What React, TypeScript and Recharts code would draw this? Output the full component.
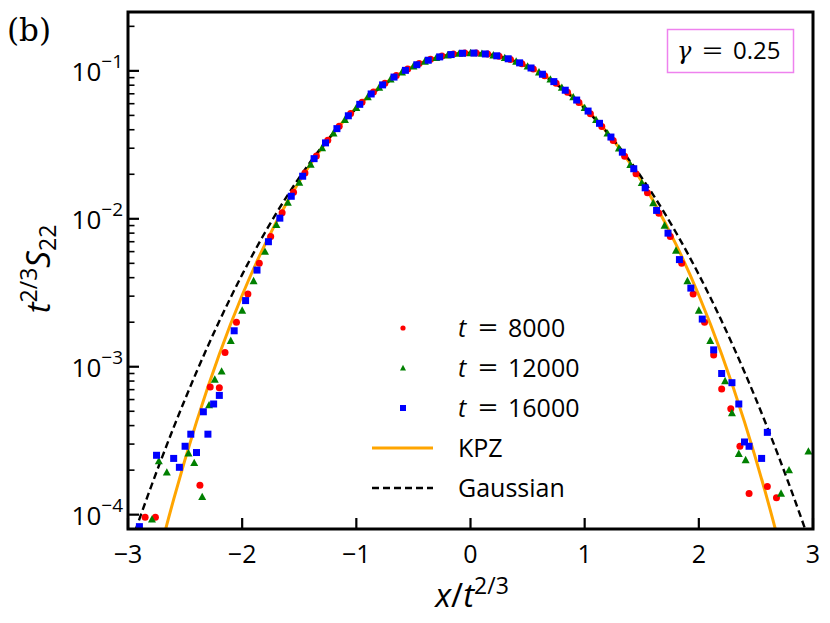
import { ComposedChart, Line, Scatter, XAxis, YAxis } from "recharts";

document.body.style.margin = "0";

const SANS = "'Open Sans', sans-serif";
const SERIF = "'DejaVu Serif', serif";

// x grid of the two theory curves
const curveX = [-3.0, -2.8, -2.6, -2.4, -2.2, -2.0, -1.8, -1.6, -1.4, -1.2, -1.0, -0.8, -0.6, -0.4, -0.2, 0,
  0.2, 0.4, 0.6, 0.8, 1.0, 1.2, 1.4, 1.6, 1.8, 2.0, 2.2, 2.4, 2.6, 2.8, 3.0];

const kpzY = [6.8e-6, 3.22e-5, 1.269e-4, 4.24e-4, 1.216e-3, 3.044e-3, 6.72e-3, 0.01325, 0.02355, 0.0381, 0.0564,
  0.0772, 0.0979, 0.1157, 0.1277, 0.132, 0.1277, 0.1157, 0.0979, 0.0772, 0.0564, 0.0381, 0.02355, 0.01325,
  6.72e-3, 3.044e-3, 1.216e-3, 4.24e-4, 1.269e-4, 3.22e-5, 6.8e-6];

const gaussY = [5.64e-5, 1.53e-4, 3.89e-4, 9.21e-4, 2.035e-3, 4.195e-3, 8.08e-3, 0.01452, 0.02437, 0.0381, 0.0557,
  0.076, 0.0968, 0.115, 0.1275, 0.132, 0.1275, 0.115, 0.0968, 0.076, 0.0557, 0.0381, 0.02437, 0.01452,
  8.08e-3, 4.195e-3, 2.035e-3, 9.21e-4, 3.89e-4, 1.53e-4, 5.64e-5];

// t = 8000
const red: [number, number][] = [
  [-2.85, 9.6e-5], [-2.76, 9.6e-5], [-2.37, 1.58e-4], [-2.28, 7.3e-4], [-2.2, 7.2e-4],
  [-2.15, 1.25e-3], [-2.05, 2.0e-3], [-1.95, 3.1e-3], [-1.85, 5.0e-3], [-1.75, 7.6e-3], [-1.65, 0.011],
  [-1.55, 0.0151], [-1.45, 0.0204], [-1.35, 0.0266], [-1.25, 0.034], [-1.15, 0.0423], [-1.05, 0.0515],
  [-0.95, 0.0614], [-0.85, 0.0719], [-0.75, 0.0826], [-0.65, 0.093], [-0.55, 0.103], [-0.45, 0.112],
  [-0.35, 0.1197], [-0.25, 0.1258], [-0.15, 0.13], [-0.05, 0.1323], [0.05, 0.1322], [0.15, 0.1298],
  [0.25, 0.1256], [0.35, 0.1195], [0.45, 0.1118], [0.55, 0.1028], [0.65, 0.0928], [0.75, 0.0824],
  [0.85, 0.0717], [0.95, 0.0612], [1.05, 0.0514], [1.15, 0.0421], [1.25, 0.0338], [1.35, 0.0265],
  [1.45, 0.0202], [1.55, 0.015], [1.65, 0.0109], [1.75, 0.0076], [1.85, 0.005], [1.95, 0.0031],
  [2.05, 0.002], [2.13, 1.2e-3], [2.2, 7.07e-4], [2.28, 5.2e-4], [2.36, 2.9e-4], [2.44, 1.39e-4],
  [2.6, 1.55e-4], [2.68, 1.3e-4],
];

// t = 12000
const green: [number, number][] = [
  [-2.79, 9.3e-5], [-2.73, 2.3e-4], [-2.66, 1.93e-4], [-2.47, 2.6e-4], [-2.42, 2.24e-4], [-2.35, 1.32e-4],
  [-2.29, 5.5e-4], [-2.24, 8.2e-4], [-2.18, 9.3e-4], [-2.1, 1.5e-3], [-2.0, 2.4e-3], [-1.9, 3.8e-3],
  [-1.8, 6.0e-3], [-1.7, 9.1e-3], [-1.6, 0.0129], [-1.5, 0.0176], [-1.4, 0.0233], [-1.3, 0.0301],
  [-1.2, 0.0379], [-1.1, 0.0467], [-1.0, 0.0563], [-0.9, 0.0666], [-0.8, 0.0772], [-0.7, 0.0877],
  [-0.6, 0.0979], [-0.5, 0.1074], [-0.4, 0.1156], [-0.3, 0.1225], [-0.2, 0.1276], [-0.1, 0.1308],
  [0, 0.132], [0.1, 0.1308], [0.2, 0.1276], [0.3, 0.1225], [0.4, 0.1156], [0.5, 0.1073], [0.6, 0.0978],
  [0.7, 0.0876], [0.8, 0.0771], [0.9, 0.0665], [1.0, 0.0562], [1.1, 0.0466], [1.2, 0.0378], [1.3, 0.03],
  [1.4, 0.0232], [1.5, 0.0175], [1.6, 0.0128], [1.7, 0.009], [1.8, 0.0061], [1.9, 0.0038], [2.0, 0.0024],
  [2.1, 0.0015], [2.23, 8.0e-4], [2.29, 4.87e-4], [2.35, 2.58e-4], [2.41, 2.34e-4], [2.72, 1.39e-4],
  [2.79, 2.0e-4], [2.96, 2.68e-4],
];

// t = 16000
const blue: [number, number][] = [
  [-2.9, 8.3e-5], [-2.75, 2.52e-4], [-2.6, 2.4e-4], [-2.55, 2.09e-4], [-2.5, 2.9e-4], [-2.45, 3.5e-4],
  [-2.4, 2.63e-4], [-2.34, 4.96e-4], [-2.3, 3.5e-4], [-2.25, 5.6e-4], [-2.2, 6.4e-4], [-2.07, 1.75e-3],
  [-1.97, 2.8e-3], [-1.87, 4.5e-3], [-1.77, 7.0e-3], [-1.67, 0.0101], [-1.57, 0.0142], [-1.47, 0.0194],
  [-1.37, 0.0255], [-1.27, 0.0326], [-1.17, 0.0407], [-1.07, 0.0497], [-0.97, 0.0594], [-0.87, 0.0698],
  [-0.77, 0.0804], [-0.67, 0.0908], [-0.57, 0.1008], [-0.47, 0.11], [-0.37, 0.118], [-0.27, 0.1243],
  [-0.17, 0.1289], [-0.07, 0.1315], [0.03, 0.1319], [0.13, 0.1301], [0.23, 0.1264], [0.33, 0.1207],
  [0.43, 0.1133], [0.53, 0.1046], [0.63, 0.0949], [0.73, 0.0846], [0.83, 0.074], [0.93, 0.0635],
  [1.03, 0.0535], [1.13, 0.0442], [1.23, 0.0357], [1.33, 0.0282], [1.43, 0.0218], [1.53, 0.0162],
  [1.63, 0.0114], [1.73, 0.008], [1.83, 0.0053], [1.93, 0.0034], [2.03, 0.0021], [2.13, 0.0013],
  [2.2, 9.0e-4], [2.29, 7.8e-4], [2.35, 5.6e-4], [2.4, 3.1e-4], [2.44, 2.9e-4], [2.55, 2.4e-4], [2.6, 3.6e-4],
];

const xTicks = [-3, -2, -1, 0, 1, 2, 3];
const yTicks = [
  1e-4, 2e-4, 3e-4, 4e-4, 5e-4, 6e-4, 7e-4, 8e-4, 9e-4,
  1e-3, 2e-3, 3e-3, 4e-3, 5e-3, 6e-3, 7e-3, 8e-3, 9e-3,
  1e-2, 2e-2, 3e-2, 4e-2, 5e-2, 6e-2, 7e-2, 8e-2, 9e-2,
  0.1, 0.2,
];

const kpzData = curveX.map((x, i) => ({ x, y: kpzY[i] }));
const gaussData = curveX.map((x, i) => ({ x, y: gaussY[i] }));
const toPts = (arr: [number, number][]) => arr.map(([x, y]) => ({ x, y }));

const RED = "#ff0000";
const GREEN = "#008000";
const BLUE = "#0000ff";
const ORANGE = "#ffa500";

// layout
const W = 830;
const H = 623;
const MARGIN = { top: 12, right: 17, bottom: 54, left: 68 };
const Y_W = 60;
const X_H = 40;
const plot = {
  left: MARGIN.left + Y_W,
  top: MARGIN.top,
  right: W - MARGIN.right,
  bottom: H - MARGIN.bottom - X_H,
};

const circle = (p: any) => <circle cx={p.cx} cy={p.cy} r={3.5} fill={RED} />;
const triangle = (p: any) => (
  <polygon points={`${p.cx},${p.cy - 4.2} ${p.cx - 4},${p.cy + 3.2} ${p.cx + 4},${p.cy + 3.2}`} fill={GREEN} />
);
const square = (p: any) => <rect x={p.cx - 3.5} y={p.cy - 3.5} width={7} height={7} fill={BLUE} />;

const XTick = (props: any) => {
  const { x, y, payload } = props;
  const base = y - 8; // axis line position
  const v = payload.value;
  return (
    <g>
      <line x1={x} x2={x} y1={base} y2={base - 11} stroke="#000" strokeWidth={2.2} />
      <text x={x} y={base + 34} textAnchor="middle" fontFamily={SANS} fontSize={25} fill="#000">
        {v < 0 ? `\u2212${-v}` : `${v}`}
      </text>
    </g>
  );
};

const YTick = (props: any) => {
  const { x, y, payload } = props;
  const base = x + 8; // axis line position
  const lg = Math.log10(payload.value);
  const exp = Math.round(lg);
  const major = Math.abs(lg - exp) < 1e-6;
  return (
    <g>
      <line x1={base} x2={base + (major ? 11 : 6.5)} y1={y} y2={y} stroke="#000" strokeWidth={major ? 2.2 : 1.6} />
      {major && (
        <text x={base - 5} y={y + 10} textAnchor="end" fontFamily={SANS} fontSize={26} fill="#000">
          10
          <tspan dy={-13} fontSize={19}>{`\u2212${-exp}`}</tspan>
        </text>
      )}
    </g>
  );
};

const legendRows = [
  { label: "8000", kind: "circle" },
  { label: "12000", kind: "triangle" },
  { label: "16000", kind: "square" },
];

const Overlay = () => {
  const mx = 403;
  const tx = 458;
  const rows = [328, 368, 408, 448, 488];
  return (
    <svg width={W} height={H} style={{ position: "absolute", left: 0, top: 0, pointerEvents: "none" }}>
      <rect
        x={plot.left}
        y={plot.top}
        width={plot.right - plot.left}
        height={plot.bottom - plot.top}
        fill="none"
        stroke="#000"
        strokeWidth={3}
      />
      <text x={7} y={41} fontFamily={SERIF} fontSize={31} fill="#000">(b)</text>

      <rect x={667.5} y={29.5} width={126} height={43} fill="#fff" stroke="#ee82ee" strokeWidth={1.5} />
      <text y={59} fontFamily={SANS} fontSize={24} fill="#000">
        <tspan x={677} fontFamily={SERIF} fontStyle="italic">γ</tspan>
        <tspan x={702} textLength={21} lengthAdjust="spacingAndGlyphs">=</tspan>
        <tspan x={733}>0.25</tspan>
      </text>

      <g transform="translate(50,269) rotate(-90)">
        <text x={0} y={0} textAnchor="middle" fontFamily={SANS} fontSize={33} fill="#000">
          <tspan fontStyle="italic">t</tspan>
          <tspan dy={-13} fontSize={23}>2/3</tspan>
          <tspan dy={13} fontStyle="italic">S</tspan>
          <tspan dy={6} fontSize={23}>22</tspan>
        </text>
      </g>

      <text x={472} y={607} textAnchor="middle" fontFamily={SANS} fontSize={33} fill="#000">
        <tspan fontStyle="italic">x</tspan>/<tspan fontStyle="italic">t</tspan>
        <tspan dy={-13} fontSize={23}>2/3</tspan>
      </text>

      {legendRows.map((r, i) => {
        const cy = rows[i];
        let mark;
        if (r.kind === "circle") mark = <circle cx={mx} cy={cy} r={2.6} fill={RED} />;
        else if (r.kind === "triangle")
          mark = <polygon points={`${mx},${cy - 3.2} ${mx - 3},${cy + 2.5} ${mx + 3},${cy + 2.5}`} fill={GREEN} />;
        else mark = <rect x={mx - 3} y={cy - 3} width={6} height={6} fill={BLUE} />;
        return (
          <g key={r.label}>
            {mark}
            <text y={cy + 9} fontFamily={SANS} fontSize={25} fill="#000">
              <tspan x={tx} fontStyle="italic">t</tspan>
              <tspan x={tx + 20} textLength={20} lengthAdjust="spacingAndGlyphs">=</tspan>
              <tspan x={tx + 50}>{r.label}</tspan>
            </text>
          </g>
        );
      })}
      <line x1={372} x2={433} y1={rows[3]} y2={rows[3]} stroke={ORANGE} strokeWidth={3} />
      <text x={tx} y={rows[3] + 9} fontFamily={SANS} fontSize={25} fill="#000">KPZ</text>
      <line x1={372} x2={433} y1={rows[4]} y2={rows[4]} stroke="#000" strokeWidth={2.4} strokeDasharray="7 4" />
      <text x={tx} y={rows[4] + 9} fontFamily={SANS} fontSize={25} fill="#000">Gaussian</text>
    </svg>
  );
};

export default function App() {
  return (
    <div style={{ position: "relative", width: W, height: H, background: "#fff" }}>
      <ComposedChart width={W} height={H} margin={MARGIN}>
        <XAxis
          type="number"
          dataKey="x"
          domain={[-3, 3]}
          ticks={xTicks}
          allowDataOverflow
          interval={0}
          axisLine={false}
          tickLine={false}
          tickSize={0}
          tickMargin={8}
          height={X_H}
          tick={<XTick />}
        />
        <YAxis
          type="number"
          dataKey="y"
          scale="log"
          domain={[8e-5, 0.25]}
          ticks={yTicks}
          allowDataOverflow
          interval={0}
          axisLine={false}
          tickLine={false}
          tickSize={0}
          tickMargin={8}
          width={Y_W}
          tick={<YTick />}
        />
        <Scatter data={toPts(red)} dataKey="y" shape={circle} isAnimationActive={false} />
        <Scatter data={toPts(green)} dataKey="y" shape={triangle} isAnimationActive={false} />
        <Scatter data={toPts(blue)} dataKey="y" shape={square} isAnimationActive={false} />
        <Line data={kpzData} dataKey="y" type="monotone" stroke={ORANGE} strokeWidth={3} dot={false} isAnimationActive={false} />
        <Line data={gaussData} dataKey="y" type="monotone" stroke="#000" strokeWidth={2.4} strokeDasharray="7 4" dot={false} isAnimationActive={false} />
      </ComposedChart>
      <Overlay />
    </div>
  );
}
